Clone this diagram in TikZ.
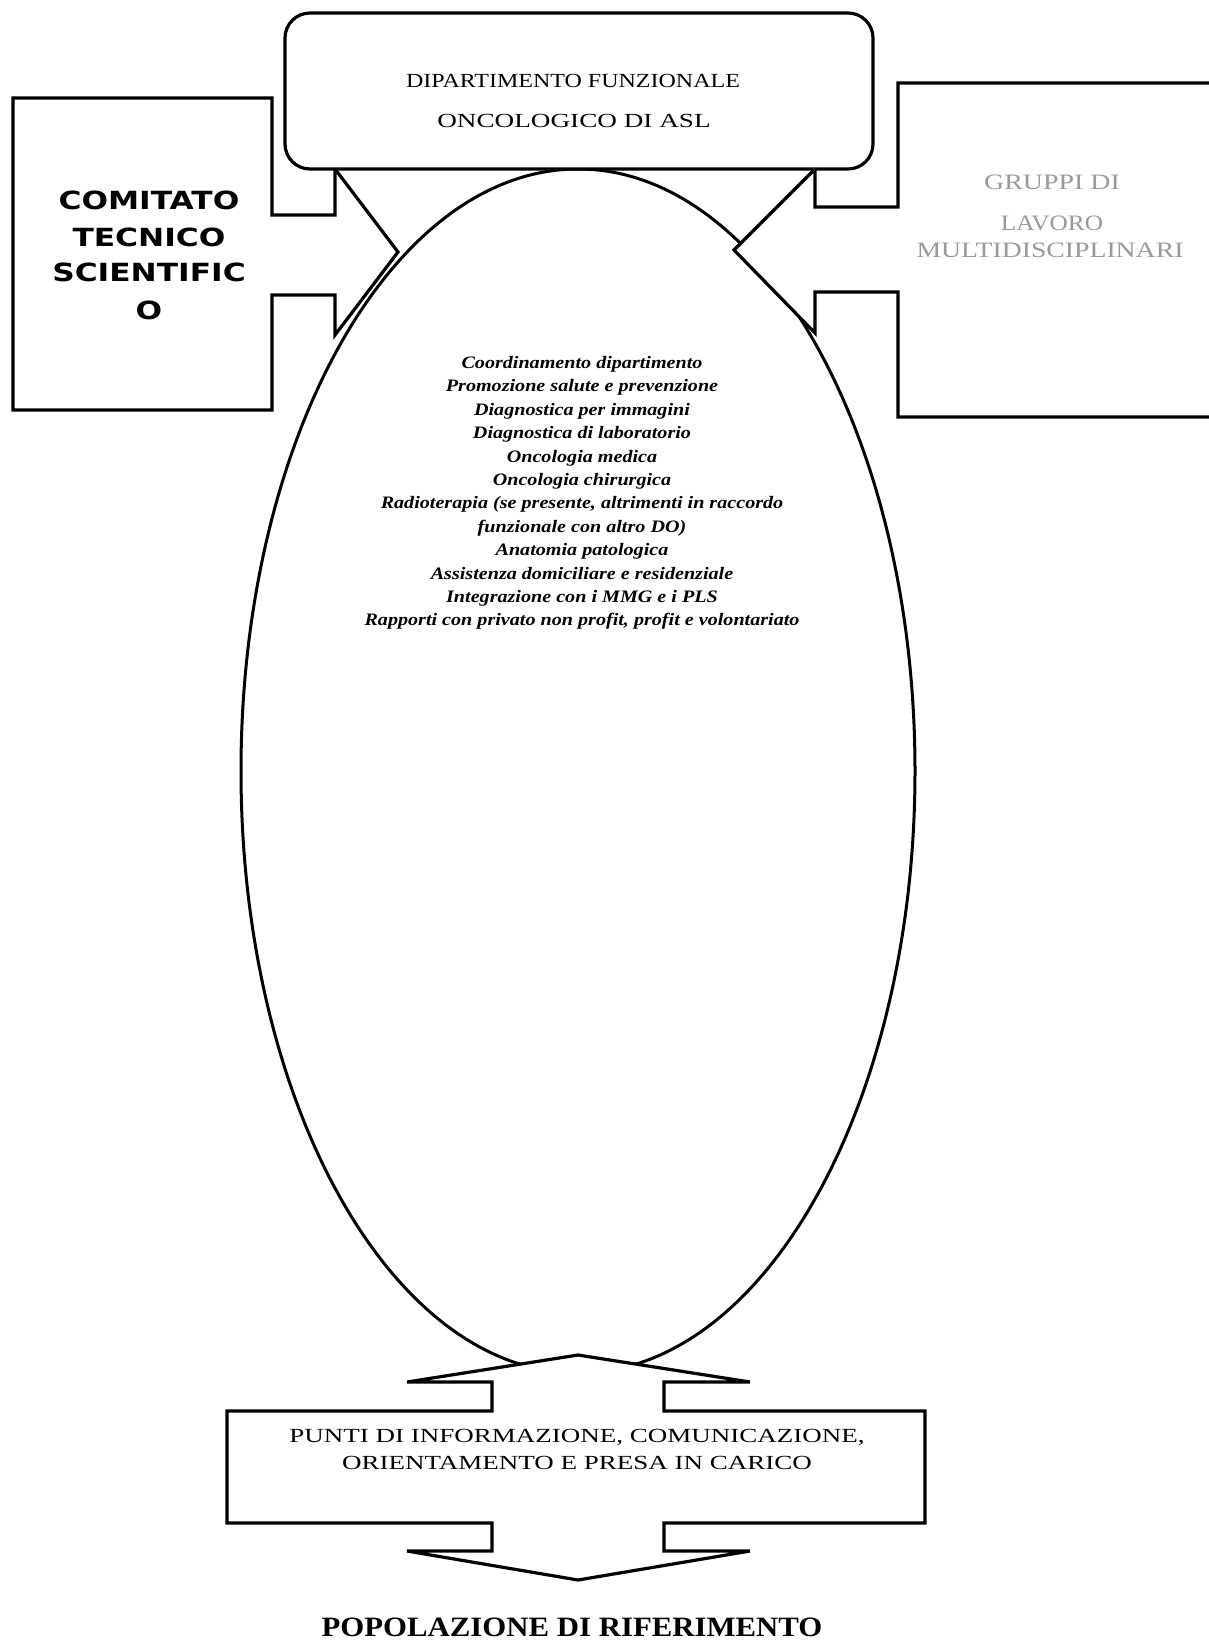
\documentclass[tikz,border=0pt]{standalone}
\usepackage{fontspec}
\setmainfont{Liberation Serif}
\newfontfamily\dipfontA[FakeStretch=1.2]{Liberation Serif}
\newfontfamily\dipfontB[FakeStretch=1.36]{Liberation Serif}
\newfontfamily\listfont[FakeStretch=1.15]{Liberation Serif}
\newfontfamily\puntifont[FakeStretch=1.35]{Liberation Serif}
\newfontfamily\popfont[FakeStretch=1.1]{Liberation Serif}
\newfontfamily\comfont[FakeStretch=1.25]{DejaVu Sans}
\newfontfamily\grufontA[FakeStretch=1.27]{Liberation Serif}
\newfontfamily\grufontB[FakeStretch=1.15]{Liberation Serif}
\newfontfamily\grufontC[FakeStretch=1.26]{Liberation Serif}
\usetikzlibrary{shapes.geometric}
\begin{document}
\begin{tikzpicture}[x=1pt,y=-1pt,
  outline/.style={draw=black, line width=3.2pt, fill=white, line join=miter},
  oval/.style={ellipse, draw=black, line width=3pt, inner sep=0pt},
  lbl/.style={inner sep=0pt, anchor=center},
  comtext/.style={lbl, font=\comfont\bfseries\fontsize{25}{30}\selectfont},
  grutext/.style={lbl, text=black!40},
  listtext/.style={lbl, align=center, font=\listfont\bfseries\itshape\fontsize{17.5}{23.4}\selectfont},
  puntitext/.style={lbl, font=\puntifont\fontsize{20}{24}\selectfont},
  poptext/.style={lbl, font=\popfont\bfseries\fontsize{28}{32}\selectfont}]
\useasboundingbox (0,0) rectangle (1208,1646);

% central ellipse
\node[oval, minimum width=674pt, minimum height=1204pt] (ell) at (578,771) {};

% left callout: Comitato tecnico scientifico
\draw[outline] (13,98) -- (272,98) -- (272,215) -- (335,215) -- (335,169)
  -- (398,252) -- (335,335) -- (335,295) -- (272,295) -- (272,410) -- (13,410) -- cycle;

% right callout: Gruppi di lavoro
\draw[outline] (1210,83) -- (898,83) -- (898,207) -- (815,207) -- (815,169)
  -- (734,250) -- (815,333) -- (815,292) -- (898,292) -- (898,417) -- (1210,417);

% bottom up-down arrow callout
\draw[outline] (578,1355) -- (750,1382) -- (664,1382) -- (664,1411) -- (925,1411)
  -- (925,1523) -- (664,1523) -- (664,1551) -- (750,1551) -- (578,1580)
  -- (407,1551) -- (492,1551) -- (492,1523) -- (227,1523) -- (227,1411)
  -- (492,1411) -- (492,1382) -- (407,1382) -- cycle;

% top rounded box
\node[outline, rounded corners=25pt, minimum width=588pt, minimum height=156pt, inner sep=0pt] (dip) at (579,91) {};

% texts
\node[lbl, font=\dipfontA\fontsize{20}{24}\selectfont] (dip1) at (573,81) {DIPARTIMENTO FUNZIONALE};
\node[lbl, font=\dipfontB\fontsize{20}{24}\selectfont] (dip2) at (574,121) {ONCOLOGICO DI ASL};

\node[comtext] (com1) at (149,200) {COMITATO};
\node[comtext] (com2) at (149,237) {TECNICO};
\node[comtext] (com3) at (149,272) {SCIENTIFIC};
\node[comtext] (com4) at (149,310) {O};

\node[grutext, font=\grufontA\fontsize{22}{26}\selectfont] (gru1) at (1052,182) {GRUPPI DI};
\node[grutext, font=\grufontB\fontsize{22}{26}\selectfont] (gru2) at (1052,223) {LAVORO};
\node[grutext, font=\grufontC\fontsize{22}{26}\selectfont] (gru3) at (1050,250) {MULTIDISCIPLINARI};

\node[listtext] (list) at (582,493) {Coordinamento dipartimento\\
Promozione salute e prevenzione\\
Diagnostica per immagini\\
Diagnostica di laboratorio\\
Oncologia medica\\
Oncologia chirurgica\\
Radioterapia (se presente, altrimenti in raccordo\\
funzionale con altro DO)\\
Anatomia patologica\\
Assistenza domiciliare e residenziale\\
Integrazione con i MMG e i PLS\\
Rapporti con privato non profit, profit e volontariato};

\node[puntitext] (pun1) at (577,1437) {PUNTI DI INFORMAZIONE, COMUNICAZIONE,};
\node[puntitext] (pun2) at (577,1463) {ORIENTAMENTO E PRESA IN CARICO};

\node[poptext] (pop) at (572,1627) {POPOLAZIONE DI RIFERIMENTO};
\end{tikzpicture}
\end{document}
